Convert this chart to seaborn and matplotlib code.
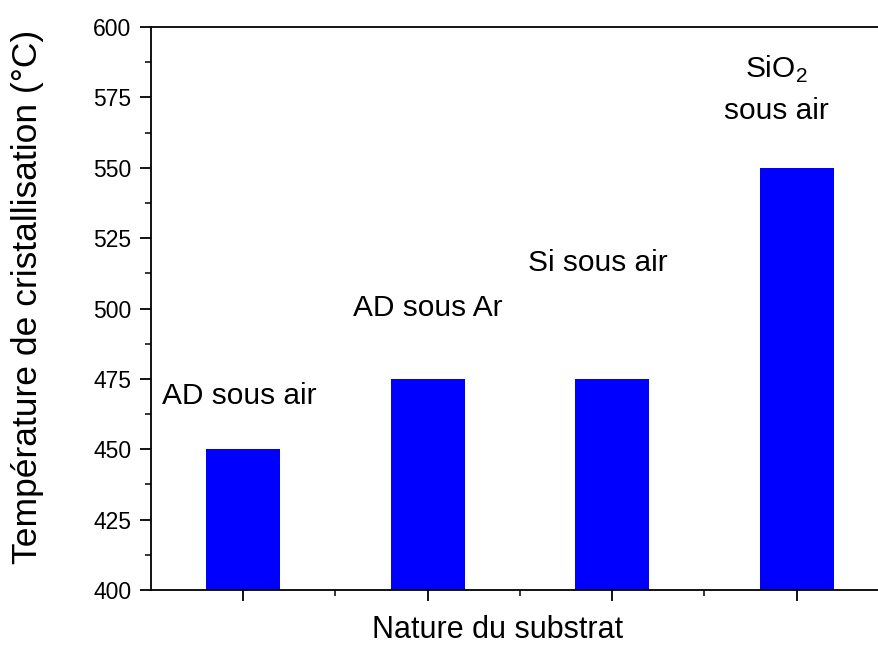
import matplotlib
matplotlib.use("Agg")
import matplotlib.pyplot as plt
from matplotlib.ticker import MultipleLocator, FixedLocator, NullFormatter
import seaborn as sns
import pandas as pd

substrats = ["AD sous air", "AD sous Ar", "Si sous air", "SiO2 sous air"]
temperatures = [450, 475, 475, 550]

sns.set_style("white")
plt.rcParams["font.family"] = ["Liberation Sans", "DejaVu Sans"]
plt.rcParams["text.color"] = "black"
plt.rcParams["axes.labelcolor"] = "black"
plt.rcParams["mathtext.fontset"] = "custom"
plt.rcParams["mathtext.rm"] = "Liberation Sans"

df = pd.DataFrame({"substrat": substrats, "temperature": temperatures})

fig = plt.figure(figsize=(8.79, 6.46), dpi=100)
ax = fig.add_axes([151 / 879, 56 / 646, 738 / 879, 563 / 646])

sns.barplot(data=df, x="substrat", y="temperature", color="#0000ff",
            saturation=1, width=0.4, ax=ax, edgecolor="none")

ax.set_ylim(400, 600)
ax.set_xlim(-0.5, 3.5)
ax.yaxis.set_major_locator(MultipleLocator(25))
ax.yaxis.set_minor_locator(MultipleLocator(12.5))
ax.xaxis.set_major_locator(FixedLocator(range(len(substrats))))
ax.xaxis.set_minor_locator(FixedLocator([0.5, 1.5, 2.5]))
ax.xaxis.set_major_formatter(NullFormatter())

ax.tick_params(axis="both", which="major", direction="out", length=8, width=1.3,
               labelsize=16.5, colors="black", pad=6)
ax.tick_params(axis="both", which="minor", direction="out", length=4, width=1.3)
ax.tick_params(axis="x", which="both", top=False, bottom=True)
ax.tick_params(axis="y", which="both", left=True, right=False)

for sp in ax.spines.values():
    sp.set_linewidth(1.3)
    sp.set_color("black")

ax.set_xlabel("Nature du substrat", fontsize=22, va="bottom")
ax.set_ylabel("Température de cristallisation (°C)", fontsize=25.5, va="center")
ax.xaxis.set_label_coords(0.469, -0.098)
ax.yaxis.set_label_coords(-0.167, 0.52)

# Annotations au-dessus des barres
fs = 21.5
ax.text(-0.02, 469, "AD sous air", ha="center", va="center", fontsize=fs)
ax.text(1.0, 500, "AD sous Ar", ha="center", va="center", fontsize=fs)
ax.text(1.92, 516, "Si sous air", ha="center", va="center", fontsize=fs)
ax.text(2.89, 585, "SiO$_2$", ha="center", va="center", fontsize=fs)
ax.text(2.89, 570, "sous air", ha="center", va="center", fontsize=fs)

fig.savefig("out.png", dpi=100)
